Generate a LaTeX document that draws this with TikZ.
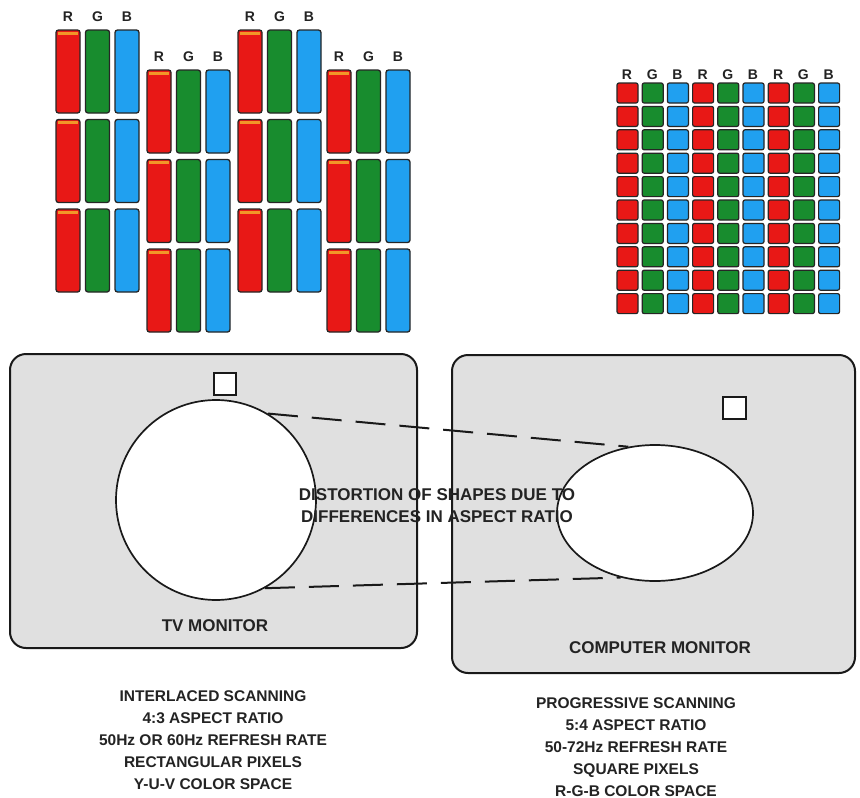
\documentclass[tikz,border=0pt]{standalone}
\usepackage{fontspec}
\setmainfont{Liberation Sans}
\usetikzlibrary{shapes.geometric}
\definecolor{pr}{RGB}{232,24,22}
\definecolor{pg}{RGB}{24,140,46}
\definecolor{pb}{RGB}{32,160,240}
\definecolor{po}{RGB}{242,150,40}
\definecolor{mgray}{RGB}{224,224,224}
\definecolor{ink}{RGB}{35,35,35}
\tikzset{
  stripe/.style={draw=black!85, line width=1.3pt, rounded corners=2.5pt},
  dotpx/.style={draw=black!85, line width=1.2pt, rounded corners=2pt},
  lbl/.style={font=\bfseries\fontsize{14}{14}\selectfont, text=ink, inner sep=0pt},
  mon/.style={draw=black!90, line width=2pt, fill=mgray, rounded corners=16pt},
  smallsq/.style={draw=black!90, line width=1.6pt, fill=white},
  screen/.style={draw=black!90, line width=1.7pt, fill=white, inner sep=0pt},
  dashlink/.style={draw=black!90, line width=2pt, dash pattern=on 30pt off 14pt},
  caption/.style={font=\bfseries\fontsize{17}{22}\selectfont, text=ink, align=center, inner sep=0pt},
  spec/.style={font=\bfseries\fontsize{15.5}{22}\selectfont, text=ink, align=center, inner sep=0pt}
}
\begin{document}
\begin{tikzpicture}[x=1pt,y=-1pt]
\useasboundingbox[fill=white] (0,0) rectangle (860,798);
% ---- rectangular TV phosphor stripes
\foreach \gx/\gy in {56/30,147/70,238/30,327/70}{
  \foreach \c/\dx/\L in {pr/0/R,pg/29.5/G,pb/59/B}{
    \node[lbl] (s-\gx-\L) at (\gx+\dx+12,\gy-13) {\L};
    \foreach \dy in {0,89.5,179}{
      \draw[stripe, fill=\c] (\gx+\dx,\gy+\dy) rectangle ++(24,83);
    }
  }
  \foreach \dy in {0,89.5,179}{
    \fill[po] (\gx+2,\gy+\dy+1.5) rectangle ++(20,3);
  }
}
% ---- square computer pixels
\foreach \j/\c/\L in {0/pr/R,1/pg/G,2/pb/B,3/pr/R,4/pg/G,5/pb/B,6/pr/R,7/pg/G,8/pb/B}{
  \node[lbl] (q-\j) at (627+\j*25.2,75) {\L};
  \foreach \i in {0,...,9}{
    \draw[dotpx, fill=\c] (617+\j*25.2,83+\i*23.4) rectangle ++(21,20);
  }
}
% ---- monitors
\draw[mon] (10,354) rectangle (417,648);
\draw[mon] (452,355) rectangle (855,673);
\draw[smallsq] (214,373) rectangle (236,395);
\draw[smallsq] (723,397) rectangle (746,419);
\node[screen, circle, minimum size=200pt] (tv) at (216,500) {};
\node[screen, ellipse, minimum width=196pt, minimum height=136pt] (pc) at (655,513) {};
\draw[dashlink] (tv.59) -- (pc.112);
\draw[dashlink] (tv.-61) -- (pc.-118);
\node[caption] (dist) at (437,506) {DISTORTION OF SHAPES DUE TO\\DIFFERENCES IN ASPECT RATIO};
\node[caption] (tvl) at (215,626) {TV MONITOR};
\node[caption] (pcl) at (660,648) {COMPUTER MONITOR};
% ---- specifications
\node[spec] (tvspec) at (213,740.5) {INTERLACED SCANNING\\4:3 ASPECT RATIO\\50Hz OR 60Hz REFRESH RATE\\RECTANGULAR PIXELS\\Y-U-V COLOR SPACE};
\node[spec] (pcspec) at (636,747) {PROGRESSIVE SCANNING\\5:4 ASPECT RATIO\\50-72Hz REFRESH RATE\\SQUARE PIXELS\\R-G-B COLOR SPACE};
\end{tikzpicture}
\end{document}
